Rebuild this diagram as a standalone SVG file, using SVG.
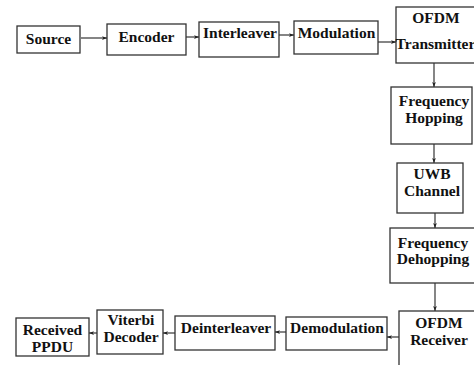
<svg xmlns="http://www.w3.org/2000/svg" width="474" height="365" viewBox="0 0 474 365">
<defs>
<style>
.box{fill:#fff;stroke:#333;stroke-width:1.3}
.lbl{font-family:"Liberation Serif","Times New Roman",serif;font-weight:bold;font-size:15.5px;fill:#111;text-anchor:middle}
.conn{stroke:#222;stroke-width:1.1;fill:none;marker-end:url(#ah)}
</style>
<marker id="ah" viewBox="0 0 8 6" refX="8" refY="3" markerWidth="5" markerHeight="4" markerUnits="userSpaceOnUse" orient="auto">
<path d="M0,0 L8,3 L0,6 L2,3 Z" fill="#222"/>
</marker>
</defs>
<rect width="474" height="365" fill="#fff"/>
<g id="connectors">
<line class="conn" x1="81" y1="38" x2="107" y2="38"/>
<line class="conn" x1="186" y1="37" x2="199" y2="37"/>
<line class="conn" x1="279" y1="35" x2="294" y2="35"/>
<line class="conn" x1="378" y1="42" x2="396" y2="42"/>
<line class="conn" x1="434" y1="63" x2="434" y2="87"/>
<line class="conn" x1="434" y1="144" x2="434" y2="163"/>
<line class="conn" x1="435" y1="213" x2="435" y2="228"/>
<line class="conn" x1="435" y1="283" x2="435" y2="311"/>
<line class="conn" x1="399" y1="337" x2="387" y2="337"/>
<line class="conn" x1="286" y1="332" x2="275" y2="332"/>
<line class="conn" x1="175" y1="333" x2="163" y2="333"/>
<line class="conn" x1="97" y1="333" x2="89" y2="333"/>
</g>
<g id="source"><rect class="box" x="17" y="26" width="63" height="27"/><text class="lbl" x="48.5" y="44">Source</text></g>
<g id="encoder"><rect class="box" x="107" y="24" width="79" height="31"/><text class="lbl" x="146.5" y="42">Encoder</text></g>
<g id="interleaver"><rect class="box" x="199" y="22" width="80" height="35"/><text class="lbl" x="240" y="38">Interleaver</text></g>
<g id="modulation"><rect class="box" x="294" y="21" width="84" height="33"/><text class="lbl" x="336.5" y="38">Modulation</text></g>
<g id="ofdm-tx"><rect class="box" x="396" y="7" width="82" height="56"/><text class="lbl" x="436" y="23">OFDM</text><text class="lbl" x="435.5" y="49">Transmitter</text></g>
<g id="freq-hop"><rect class="box" x="391" y="87" width="81" height="57"/><text class="lbl" x="434" y="106">Frequency</text><text class="lbl" x="434" y="123">Hopping</text></g>
<g id="uwb"><rect class="box" x="397" y="163" width="66" height="50"/><text class="lbl" x="432" y="179">UWB</text><text class="lbl" x="432" y="196">Channel</text></g>
<g id="freq-dehop"><rect class="box" x="390" y="228" width="88" height="55"/><text class="lbl" x="433" y="248">Frequency</text><text class="lbl" x="433" y="264">Dehopping</text></g>
<g id="ofdm-rx"><rect class="box" x="399" y="311" width="80" height="60"/><text class="lbl" x="439" y="328">OFDM</text><text class="lbl" x="439" y="345">Receiver</text></g>
<g id="demodulation"><rect class="box" x="286" y="317" width="101" height="33"/><text class="lbl" x="337" y="333">Demodulation</text></g>
<g id="deinterleaver"><rect class="box" x="175" y="316" width="100" height="34"/><text class="lbl" x="226" y="333">Deinterleaver</text></g>
<g id="viterbi"><rect class="box" x="97" y="310" width="66" height="44"/><text class="lbl" x="131" y="325">Viterbi</text><text class="lbl" x="131" y="342">Decoder</text></g>
<g id="received"><rect class="box" x="16" y="318" width="73" height="38"/><text class="lbl" x="52.5" y="335">Received</text><text class="lbl" x="52.5" y="352">PPDU</text></g>
</svg>
